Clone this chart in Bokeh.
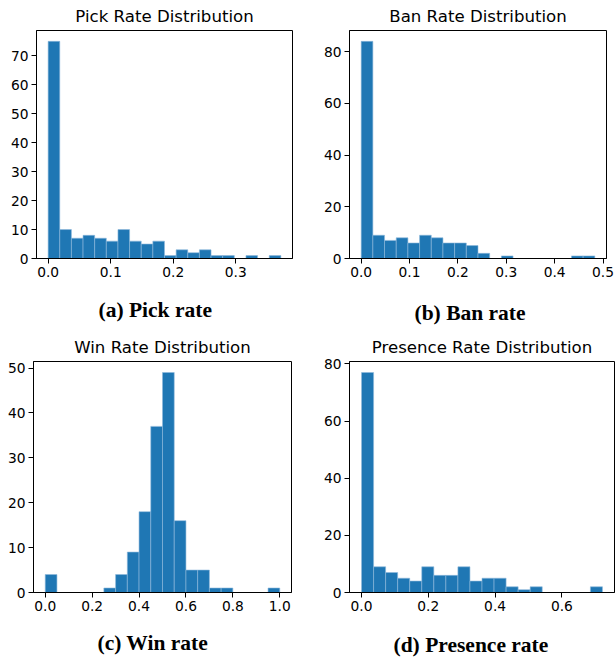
import numpy as np
from bokeh.plotting import figure
from bokeh.models import (Range1d, FixedTicker, NumeralTickFormatter, Title,
                          LinearAxis, CustomJSTickFormatter)
from bokeh.layouts import column, row
from bokeh.embed import file_html
from bokeh.resources import INLINE

# ---------------- data (20 equal-width bins per histogram) ----------------
pick_counts = [75, 10, 7, 8, 7, 6, 10, 6, 5, 6, 1, 3, 2, 3, 1, 1, 0, 1, 0, 1]
pick_min, pick_max = 0.0, 0.372
ban_counts = [84, 9, 7, 8, 6, 9, 8, 6, 6, 5, 2, 0, 1, 0, 0, 0, 0, 0, 1, 1]
ban_min, ban_max = 0.0, 0.483
win_counts = [4, 0, 0, 0, 0, 1, 4, 9, 18, 37, 49, 16, 5, 5, 1, 1, 0, 0, 0, 1]
win_min, win_max = 0.0, 1.0
presence_counts = [77, 9, 7, 5, 4, 9, 6, 6, 9, 4, 5, 5, 2, 1, 2, 0, 0, 0, 0, 2]
presence_min, presence_max = 0.0, 0.7216

titles = ["Pick Rate Distribution", "Ban Rate Distribution",
          "Win Rate Distribution", "Presence Rate Distribution"]
captions = ["(a) Pick rate", "(b) Ban rate", "(c) Win rate", "(d) Presence rate"]

pick_xticks = [0.0, 0.1, 0.2, 0.3]
ban_xticks = [0.0, 0.1, 0.2, 0.3, 0.4, 0.5]
win_xticks = [0.0, 0.2, 0.4, 0.6, 0.8, 1.0]
presence_xticks = [0.0, 0.2, 0.4, 0.6]
pick_yticks = [0, 10, 20, 30, 40, 50, 60, 70]
ban_yticks = [0, 20, 40, 60, 80]
win_yticks = [0, 10, 20, 30, 40, 50]
presence_yticks = [0, 20, 40, 60, 80]

BAR = "#1f77b4"
SANS = "DejaVu Sans"


def hist_fig(counts, lo, hi, xticks, yticks, title, caption,
             width, height, borders, title_standoff, cap_space, cap_offset):
    nb = len(counts)
    edges = np.linspace(lo, hi, nb + 1)
    span = hi - lo
    xr = Range1d(lo - 0.05 * span, hi + 0.05 * span)
    yr = Range1d(0, max(counts) * 1.05)
    left, right, top, bottom = borders
    p = figure(width=width, height=height, x_range=xr, y_range=yr,
               output_backend="svg", toolbar_location=None,
               min_border_left=left, min_border_right=right,
               min_border_top=top, min_border_bottom=bottom)
    p.quad(left=edges[:-1], right=edges[1:], bottom=0, top=counts,
           fill_color=BAR, line_color="#8fb8dc", line_width=0.6)
    p.grid.visible = False
    p.outline_line_color = "black"
    p.outline_line_width = 1
    p.background_fill_color = "white"
    p.border_fill_color = "white"
    for ax in (p.xaxis[0], p.yaxis[0]):
        ax.axis_line_color = "black"
        ax.major_tick_line_color = "black"
        ax.minor_tick_line_color = None
        ax.major_tick_out = 5
        ax.major_tick_in = 0
        ax.major_label_standoff = 3
        ax.major_label_text_font = SANS
        ax.major_label_text_font_size = "13.8px"
        ax.major_label_text_color = "black"
    p.xaxis[0].ticker = FixedTicker(ticks=xticks)
    p.xaxis[0].formatter = NumeralTickFormatter(format="0.0")
    p.yaxis[0].ticker = FixedTicker(ticks=yticks)
    p.title = Title(text=title, align="center", vertical_align="bottom",
                    text_font=SANS, text_font_size="16.6px",
                    text_font_style="normal", text_color="black",
                    standoff=title_standoff)
    # invisible spacer between tick labels and caption
    spacer = LinearAxis(ticker=FixedTicker(ticks=[lo]), axis_line_color=None,
                        major_tick_line_color=None, minor_tick_line_color=None,
                        major_tick_out=cap_space, major_tick_in=0,
                        major_label_standoff=0,
                        major_label_text_font_size="1px",
                        formatter=CustomJSTickFormatter(code="return ''"))
    p.add_layout(spacer, "below")
    p.add_layout(Title(text=caption, align="left", offset=cap_offset,
                       vertical_align="top", standoff=0,
                       text_font="Liberation Serif", text_font_style="bold",
                       text_font_size="21.5px", text_color="black"), "below")
    return p


pa = hist_fig(pick_counts, pick_min, pick_max, pick_xticks, pick_yticks,
              titles[0], captions[0], 308, 330, (36, 16, 30, 72),
              9, 18, 62)
pb = hist_fig(ban_counts, ban_min, ban_max, ban_xticks, ban_yticks,
              titles[1], captions[1], 308, 330, (41, 10, 30, 72),
              9, 21, 65)
pc = hist_fig(win_counts, win_min, win_max, win_xticks, win_yticks,
              titles[2], captions[2], 308, 328, (33, 17, 31, 66),
              10, 17, 64)
pd = hist_fig(presence_counts, presence_min, presence_max, presence_xticks,
              presence_yticks, titles[3], captions[3], 308, 328,
              (41, 2, 31, 66), 10, 19, 44)

layout = column(row(pa, pb), row(pc, pd))

open("out.html", "w").write(file_html(layout, INLINE))
